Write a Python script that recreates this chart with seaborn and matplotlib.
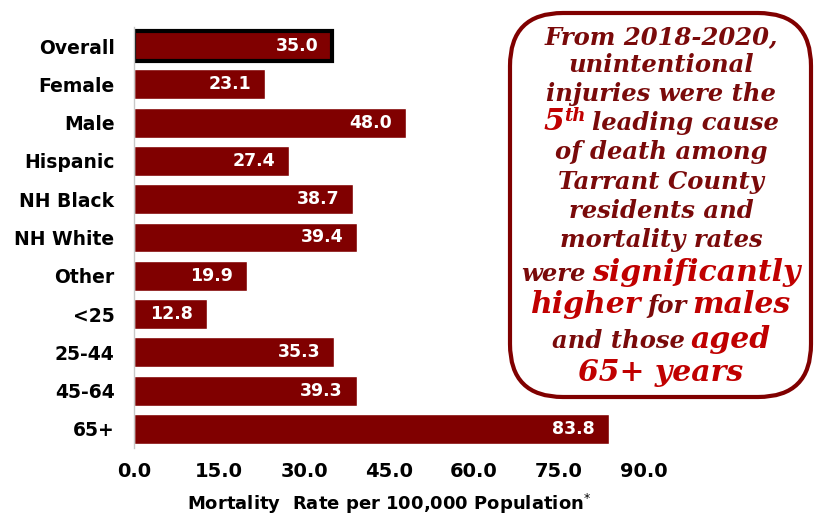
"""
Tasa de mortalidad por lesiones no intencionales, Tarrant County 2018-2020.
"""

import matplotlib
matplotlib.use("Agg")
import matplotlib.pyplot as plt
import seaborn as sns
import pandas as pd
from matplotlib.patches import FancyBboxPatch

groups = ["Overall", "Female", "Male", "Hispanic", "NH Black", "NH White",
          "Other", "<25", "25-44", "45-64", "65+"]
rates = [35.0, 23.1, 48.0, 27.4, 38.7, 39.4, 19.9, 12.8, 35.3, 39.3, 83.8]
x_ticks = [0, 15, 30, 45, 60, 75, 90]

BAR = "#800000"
DARK = "#7a0a0a"
RED = "#c00000"

sns.set_theme(style="white")
plt.rcParams["font.family"] = ["DejaVu Sans"]

df = pd.DataFrame({"group": groups, "rate": rates})

fig = plt.figure(figsize=(8.15, 5.16), dpi=100)
ax = fig.add_axes([134 / 815, 1 - 448 / 516, 510 / 815, 421 / 516])

sns.barplot(data=df, y="group", x="rate", color=BAR, saturation=1,
            width=0.78, ax=ax, orient="h")

# borde negro para la barra "Overall"
ax.patches[0].set_edgecolor("black")
ax.patches[0].set_linewidth(3)

for bar, val in zip(ax.patches, rates):
    ax.annotate(f"{val:.1f}", xy=(val, bar.get_y() + bar.get_height() / 2),
                xytext=(-10, 0), textcoords="offset points",
                ha="right", va="center", color="white",
                fontsize=12.5, fontweight="bold")

ax.set_xlim(0, 90)
ax.set_ylim(10.5, -0.5)
ax.set_xticks(x_ticks)
ax.set_xticklabels([f"{t:.1f}" for t in x_ticks], fontsize=14, fontweight="bold")
ax.set_yticklabels(groups, fontsize=13.5, fontweight="bold")
ax.tick_params(axis="both", length=0, colors="black")
ax.tick_params(axis="x", pad=10)
ax.tick_params(axis="y", pad=14)
ax.set_ylabel("")
ax.set_xlabel("Mortality  Rate per 100,000 Population$^{*}$",
              fontsize=13, fontweight="bold", color="black", labelpad=8)
for s in ["top", "right", "bottom"]:
    ax.spines[s].set_visible(False)
ax.spines["left"].set_color("#c8c8c8")
ax.spines["left"].set_linewidth(1)

# cuadro de texto
box = FancyBboxPatch((510 / 815, 1 - 397 / 516), 301 / 815, 384 / 516,
                     boxstyle="round,pad=0,rounding_size=0.065",
                     transform=fig.transFigure, facecolor="white",
                     edgecolor=BAR, linewidth=3, mutation_aspect=815 / 516)
fig.patches.append(box)

S = 17.5
B = 21.5
lines = [
    (44, [("From 2018-2020,", DARK, S, 0)]),
    (72, [("unintentional", DARK, S, 0)]),
    (101, [("injuries were the", DARK, S, 0)]),
    (130, [("5", RED, B, 0), ("th", RED, 13, 9), (" leading cause", DARK, S, 0)]),
    (159, [("of death among", DARK, S, 0)]),
    (189, [("Tarrant County", DARK, S, 0)]),
    (218, [("residents and", DARK, S, 0)]),
    (247, [("mortality rates", DARK, S, 0)]),
    (281, [("were ", DARK, S, 0), ("significantly", RED, B, 0)]),
    (313, [("higher", RED, B, 0), (" for ", DARK, S, 0), ("males", RED, B, 0)]),
    (348, [("and those ", DARK, S, 0), ("aged", RED, B, 0)]),
    (381, [("65+ years", RED, B, 0)]),
]

renderer = fig.canvas.get_renderer()
xc = 661
for y, parts in lines:
    texts = []
    widths = []
    for s, c, fs, dy in parts:
        t = fig.text(0, 1 - (y - dy) / 516, s.strip(), color=c, fontsize=fs,
                     family="DejaVu Serif", style="italic", fontweight="bold",
                     va="baseline", ha="left")
        texts.append(t)
        w = t.get_window_extent(renderer).width
        gap = 6 if s.endswith(" ") else 0
        lead = 6 if s.startswith(" ") else 0
        widths.append((lead, w, gap))
    total = sum(a + b + c for a, b, c in widths)
    x = xc - total / 2
    for t, (lead, w, gap) in zip(texts, widths):
        x += lead
        t.set_x(x / 815)
        x += w + gap

fig.savefig("out.png", dpi=100)
